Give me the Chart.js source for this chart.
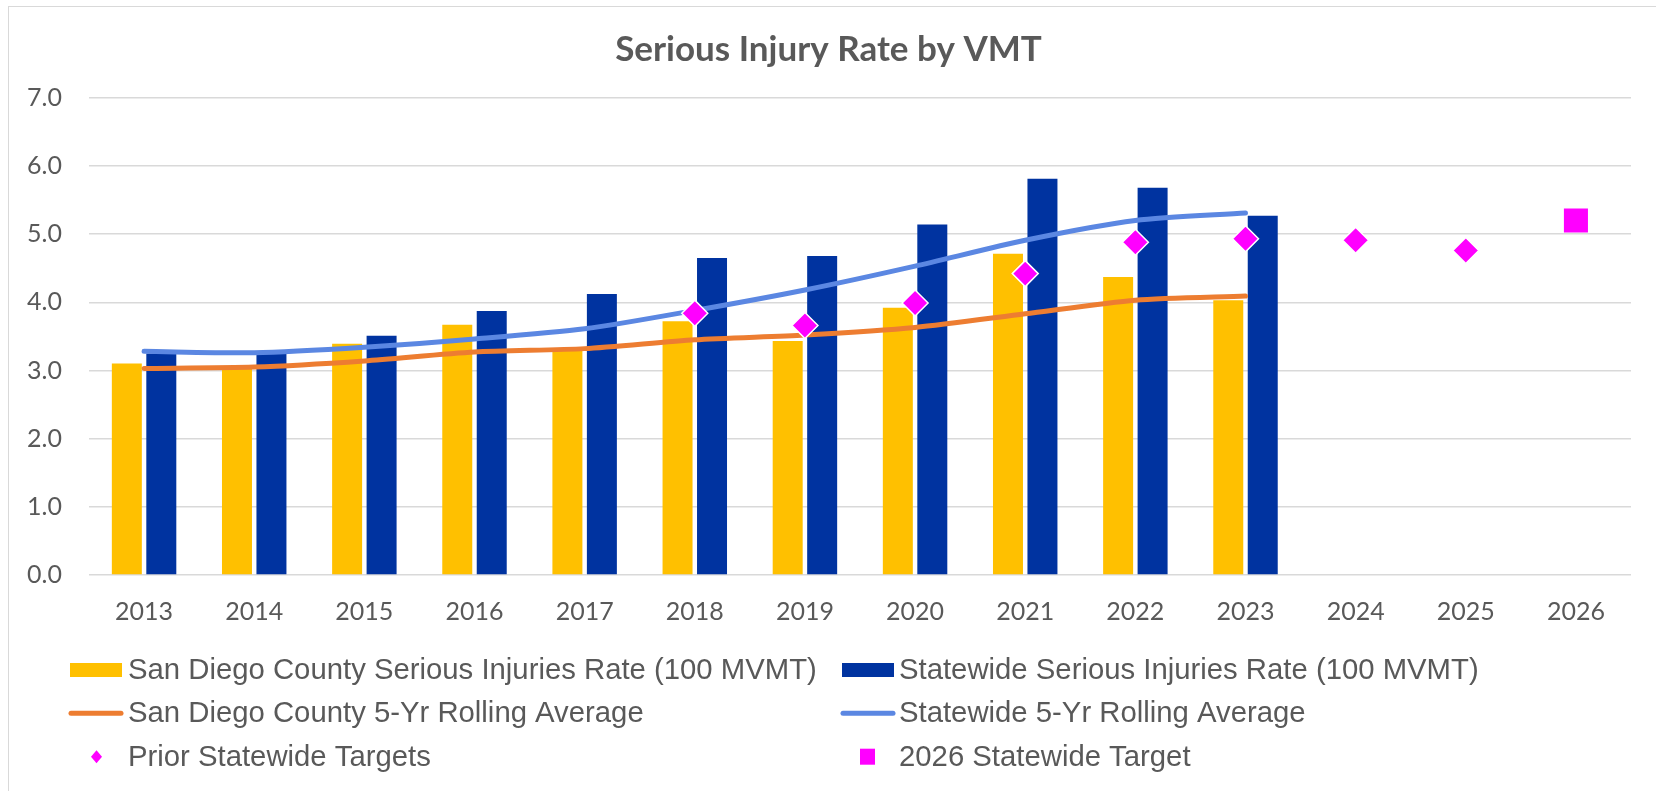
<!DOCTYPE html>
<html>
<head>
<meta charset="utf-8">
<script src="https://cdn.jsdelivr.net/npm/chart.js@4.4.1/dist/chart.umd.min.js"></script>
<style>
  html, body { margin: 0; padding: 0; background: #ffffff; }
  #wrap { position: relative; width: 1656px; height: 791px; overflow: hidden; }
  #frame { position: absolute; left: 8px; top: 6px; width: 1700px; height: 900px;
           border-left: 1.5px solid #d9d9d9; border-top: 1.5px solid #d9d9d9; }
  canvas { position: absolute; left: 0; top: 0; }
</style>
</head>
<body>
<div id="wrap">
  <div id="frame"></div>
  <canvas id="c" width="1656" height="791"></canvas>
</div>
<script>
// ---- data ----
const years = ['2013','2014','2015','2016','2017','2018','2019','2020','2021','2022','2023','2024','2025','2026'];
const sdRate = [3.10, 3.05, 3.39, 3.67, 3.29, 3.72, 3.43, 3.92, 4.71, 4.37, 4.03, null, null, null];
const stateRate = [3.25, 3.25, 3.51, 3.87, 4.12, 4.65, 4.68, 5.14, 5.81, 5.68, 5.27, null, null, null];
const sdAvg = [3.03, 3.05, 3.14, 3.27, 3.32, 3.45, 3.52, 3.63, 3.83, 4.03, 4.09, null, null, null];
const stateAvg = [3.28, 3.26, 3.34, 3.46, 3.61, 3.88, 4.18, 4.53, 4.91, 5.20, 5.31, null, null, null];
const priorTargets = [null, null, null, null, null, 3.84, 3.66, 3.99, 4.42, 4.88, 4.93, 4.91, 4.76, null];
const target2026 = [null, null, null, null, null, null, null, null, null, null, null, null, null, 5.20];
const yTicks = [0, 1, 2, 3, 4, 5, 6, 7];

const seriesNames = [
  'San Diego County Serious Injuries Rate (100 MVMT)',
  'Statewide Serious Injuries Rate (100 MVMT)',
  'San Diego County 5-Yr Rolling Average',
  'Statewide 5-Yr Rolling Average',
  'Prior Statewide Targets',
  '2026 Statewide Target'
];

const TEXT = '#595959';
const YELLOW = '#FFC000';
const NAVY = '#0033A0';
const ORANGE = '#ED7D31';
const LBLUE = '#5B87E2';
const MAGENTA = '#FF00FF';

// custom legend (2 columns x 3 rows) drawn on canvas
const legendPlugin = {
  id: 'gridLegend',
  afterDraw(chart) {
    const ctx = chart.ctx;
    const cols = [70, 842];
    const rows = [670, 713.3, 756.7];
    const textX = [128, 899];
    ctx.save();
    ctx.font = '29.3px "Liberation Sans", Arial, sans-serif';
    ctx.fillStyle = TEXT;
    ctx.textBaseline = 'middle';
    ctx.textAlign = 'left';
    chart.data.datasets.forEach((ds, i) => {
      const c = i % 2, r = Math.floor(i / 2);
      const x0 = cols[c], y = rows[r];
      ctx.save();
      if (ds.legendKind === 'box') {
        ctx.fillStyle = ds.backgroundColor;
        ctx.fillRect(x0, y - 7, 52, 14);
      } else if (ds.legendKind === 'line') {
        ctx.strokeStyle = ds.borderColor;
        ctx.lineWidth = 5;
        ctx.lineCap = 'round';
        ctx.beginPath();
        ctx.moveTo(x0 + 1, y);
        ctx.lineTo(x0 + 51, y);
        ctx.stroke();
      } else if (ds.legendKind === 'diamond') {
        const cx = x0 + 26.5;
        ctx.fillStyle = ds.backgroundColor;
        ctx.beginPath();
        ctx.moveTo(cx, y - 6.5);
        ctx.lineTo(cx + 5.5, y);
        ctx.lineTo(cx, y + 6.5);
        ctx.lineTo(cx - 5.5, y);
        ctx.closePath();
        ctx.fill();
      } else if (ds.legendKind === 'square') {
        const cx = x0 + 25.5;
        ctx.fillStyle = ds.backgroundColor;
        ctx.fillRect(cx - 7.5, y - 8, 15, 16);
      }
      ctx.restore();
      ctx.fillText(ds.label, textX[c], y + 1);
    });
    ctx.restore();
  }
};

new Chart(document.getElementById('c'), {
  data: {
    labels: years,
    datasets: [
      { type: 'bar', label: seriesNames[0], data: sdRate, backgroundColor: YELLOW,
        order: 5, legendKind: 'box', categoryPercentage: 0.626, barPercentage: 0.87 },
      { type: 'bar', label: seriesNames[1], data: stateRate, backgroundColor: NAVY,
        order: 5, legendKind: 'box', categoryPercentage: 0.626, barPercentage: 0.87 },
      { type: 'line', label: seriesNames[2], data: sdAvg, borderColor: ORANGE, backgroundColor: ORANGE,
        borderWidth: 5, pointRadius: 0, tension: 0.25, borderCapStyle: 'round', order: 3, legendKind: 'line' },
      { type: 'line', label: seriesNames[3], data: stateAvg, borderColor: LBLUE, backgroundColor: LBLUE,
        borderWidth: 5, pointRadius: 0, tension: 0.25, borderCapStyle: 'round', order: 3, legendKind: 'line' },
      { type: 'line', label: seriesNames[4], data: priorTargets, showLine: false,
        pointStyle: 'rectRot', pointRadius: 13, pointHoverRadius: 13,
        backgroundColor: MAGENTA, borderColor: '#ffffff', borderWidth: 1.5, order: 1, legendKind: 'diamond' },
      { type: 'line', label: seriesNames[5], data: target2026, showLine: false,
        pointStyle: 'rect', pointRadius: 17, pointHoverRadius: 17,
        backgroundColor: MAGENTA, borderColor: MAGENTA, borderWidth: 0, order: 1, legendKind: 'square' }
    ]
  },
  options: {
    responsive: false,
    animation: false,
    devicePixelRatio: 1,
    layout: { padding: { left: 26, right: 25, top: 0, bottom: 156 } },
    plugins: {
      legend: { display: false },
      tooltip: { enabled: false },
      title: {
        display: true,
        text: 'Serious Injury Rate by VMT',
        color: TEXT,
        font: { family: 'Lato, "Open Sans", sans-serif', size: 35, weight: 'bold' },
        padding: { top: 29, bottom: 26.7 }
      }
    },
    scales: {
      x: {
        grid: { display: false, drawTicks: false },
        border: { display: false },
        ticks: { color: TEXT, font: { family: 'Lato, "Open Sans", sans-serif', size: 25 }, padding: 22, maxRotation: 0 },
        afterFit(scale) { scale.height = 60; }
      },
      y: {
        min: 0, max: 7,
        afterBuildTicks(scale) { scale.ticks = yTicks.map(v => ({ value: v })); },
        grid: { color: '#D9D9D9', lineWidth: 1.5, drawTicks: false },
        border: { display: false },
        ticks: { color: TEXT, font: { family: 'Lato, "Open Sans", sans-serif', size: 25 }, padding: 27,
                 callback: v => Number(v).toFixed(1) },
        afterFit(scale) { scale.width = 63; }
      }
    }
  },
  plugins: [legendPlugin]
});
</script>
</body>
</html>
